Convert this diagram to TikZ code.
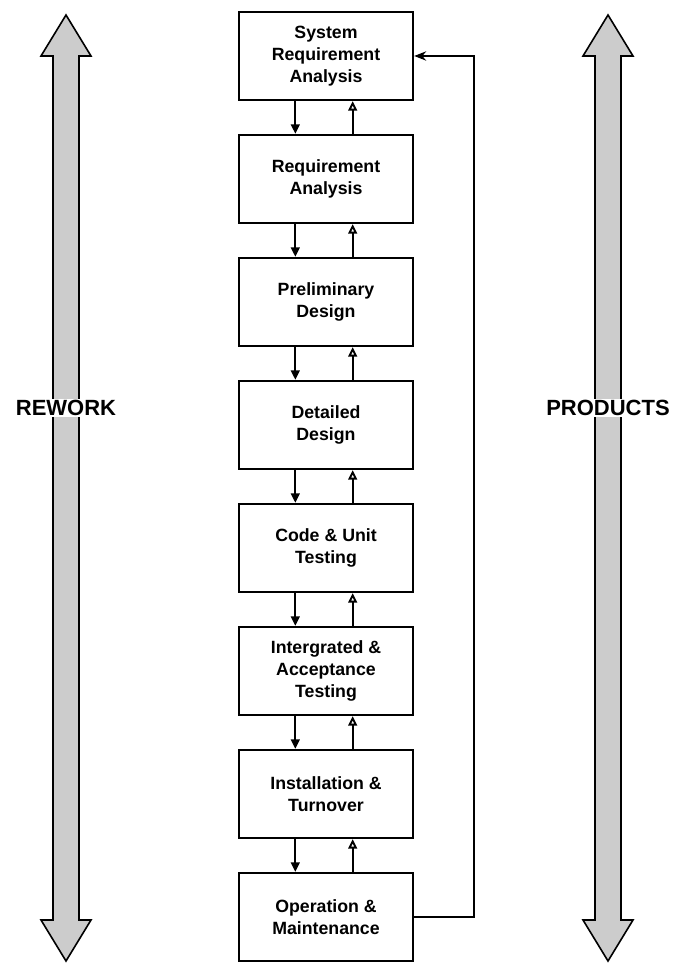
\documentclass[tikz,border=0pt]{standalone}
\usepackage{fontspec}
\setmainfont{Liberation Sans}
\usetikzlibrary{arrows.meta, positioning}

\begin{document}
\begin{tikzpicture}[
  x=0.75pt, y=-0.75pt,
  node distance=24.45pt,
  stage/.style={draw, line width=1.8pt, fill=white, minimum width=130.5pt, minimum height=66pt, align=center, font=\bfseries\fontsize{13.3}{16.5}\selectfont},
  flow/.style={line width=1.4pt, -{Triangle[length=7pt, width=6.5pt]}},
  back/.style={line width=1.4pt, -{Triangle[open, length=7pt, width=6.5pt]}},
  feedback/.style={line width=1.2pt, -{Stealth[length=9pt, width=7pt]}},
  bigarrow/.style={draw, line width=1.2pt, fill=black!20},
  side/.style={fill=white, inner sep=1pt, font=\bfseries\fontsize{16.5}{18}\selectfont}
  ]
  \useasboundingbox (0,0) rectangle (673,970);

  % Side arrows
  \foreach \x in {66,608}
    \draw[bigarrow] (\x,15) -- ++(25,41) -- ++(-12,0) -- ++(0,864) -- ++(12,0) -- (\x,961)
      -- ++(-25,-41) -- ++(12,0) -- ++(0,-864) -- ++(-12,0) -- cycle;

  \node[side] (rework) at (66,408) {REWORK};
  \node[side] (products) at (608,408) {PRODUCTS};

  % Stages
  \node[stage] (sra) at (326,56) {System\\Requirement\\Analysis};
  \node[stage, below=of sra] (ra) {Requirement\\Analysis};
  \node[stage, below=of ra] (pd) {Preliminary\\Design};
  \node[stage, below=of pd] (dd) {Detailed\\Design};
  \node[stage, below=of dd] (cut) {Code \& Unit\\Testing};
  \node[stage, below=of cut] (iat) {Intergrated \&\\Acceptance\\Testing};
  \node[stage, below=of iat] (it) {Installation \&\\Turnover};
  \node[stage, below=of it] (om) {Operation \&\\Maintenance};

  % Arrows between stages
  \foreach \a/\b in {sra/ra, ra/pd, pd/dd, dd/cut, cut/iat, iat/it, it/om} {
    \draw[flow] ([xshift=-23pt]\a.south) -- ([xshift=-23pt]\b.north);
    \draw[back] ([xshift=20pt]\b.north) -- ([xshift=20pt]\a.south);
  }

  % Feedback to the top
  \draw[feedback] (om.east) -- ++(45pt,0) |- (sra.east);

\end{tikzpicture}
\end{document}
